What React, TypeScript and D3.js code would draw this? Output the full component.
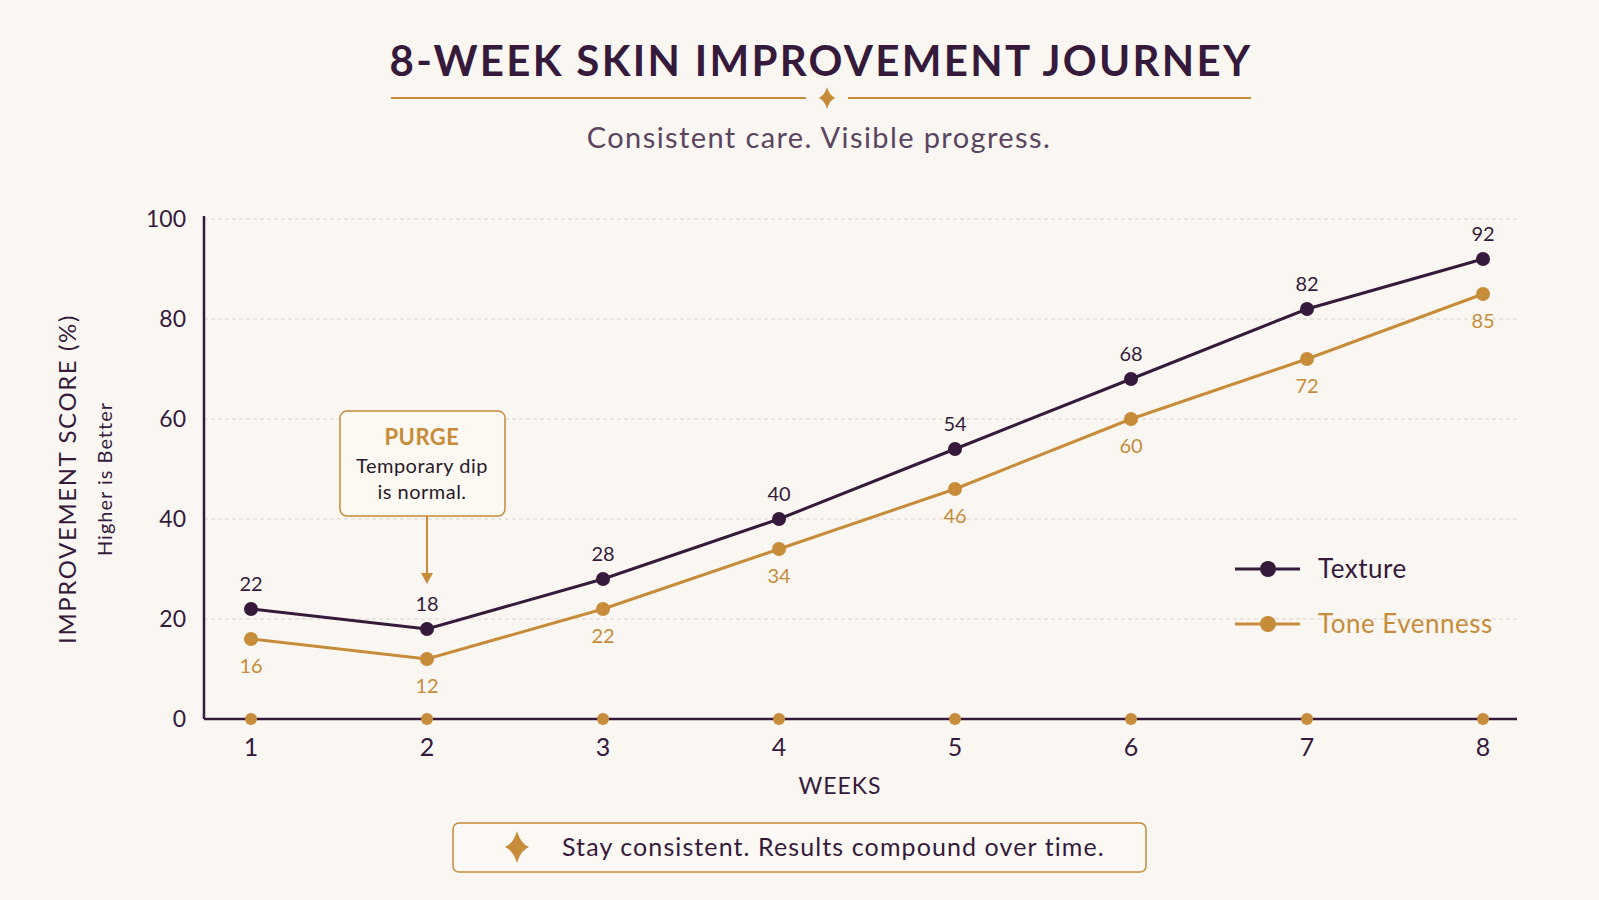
import { useMemo } from "react";
import * as d3 from "d3";

const width = 1599;
const height = 900;

const weeks = [1, 2, 3, 4, 5, 6, 7, 8];
const texture = [22, 18, 28, 40, 54, 68, 82, 92];
const tone = [16, 12, 22, 34, 46, 60, 72, 85];
const yTicks = [0, 20, 40, 60, 80, 100];

const BG = "#faf7f2";
const PURPLE = "#361a3c";
const GOLD = "#c68c3a";
const FONT = "Lato, 'Open Sans', sans-serif";

const starPath = (cx: number, cy: number, r: number) => {
  const k = r * 0.22;
  return `M${cx},${cy - r} Q${cx + k},${cy - k} ${cx + r * 0.75},${cy} Q${cx + k},${cy + k} ${cx},${cy + r} Q${cx - k},${cy + k} ${cx - r * 0.75},${cy} Q${cx - k},${cy - k} ${cx},${cy - r}Z`;
};

export default function App() {
  const x = useMemo(() => d3.scaleLinear().domain([1, 8]).range([251, 1483]), []);
  const y = useMemo(() => d3.scaleLinear().domain([0, 100]).range([719, 219]), []);

  const line = d3
    .line<number>()
    .x((_, i) => x(weeks[i]))
    .y((d) => y(d));

  const left = 204;
  const right = 1517;

  return (
    <svg width={width} height={height} style={{ position: "absolute", left: 0, top: 0, background: BG }}>
      <rect width={width} height={height} fill={BG} />

      {/* title */}
      <text x={821} y={76} textAnchor="middle" fontFamily={FONT} fontWeight={700} fontSize={42} fill={PURPLE} letterSpacing={2.3}>
        8-WEEK SKIN IMPROVEMENT JOURNEY
      </text>
      <line x1={391} x2={806} y1={98} y2={98} stroke={GOLD} strokeWidth={2} />
      <line x1={848} x2={1251} y1={98} y2={98} stroke={GOLD} strokeWidth={2} />
      <path d={starPath(827, 98, 11)} fill={GOLD} />
      <text x={819} y={148} textAnchor="middle" fontFamily={FONT} fontSize={29} fill="#5a4460" letterSpacing={1.4}>
        Consistent care. Visible progress.
      </text>

      {/* grid */}
      {yTicks.filter((t) => t > 0).map((t) => (
        <line key={t} x1={left} x2={right} y1={y(t)} y2={y(t)} stroke="#d9d4cf" strokeWidth={1} strokeDasharray="4 3" />
      ))}

      {/* axes */}
      <line x1={left} x2={left} y1={y(100) - 3} y2={y(0)} stroke={PURPLE} strokeWidth={2.5} />
      <line x1={left} x2={right} y1={y(0)} y2={y(0)} stroke={PURPLE} strokeWidth={2.5} />
      {yTicks.map((t) => (
        <text key={t} x={186} y={y(t) + 8} textAnchor="end" fontFamily={FONT} fontSize={23} fill={PURPLE}>
          {t}
        </text>
      ))}
      {weeks.map((w) => (
        <g key={w}>
          <circle cx={x(w)} cy={y(0)} r={6} fill={GOLD} />
          <text x={x(w)} y={756} textAnchor="middle" fontFamily={FONT} fontSize={25} fill={PURPLE}>
            {w}
          </text>
        </g>
      ))}
      <text x={840} y={794} textAnchor="middle" fontFamily={FONT} fontSize={23} fill={PURPLE} letterSpacing={1}>
        WEEKS
      </text>
      <text transform={`translate(76,${479}) rotate(-90)`} textAnchor="middle" fontFamily={FONT} fontSize={24} fill={PURPLE} letterSpacing={1.6}>
        IMPROVEMENT SCORE (%)
      </text>
      <text transform={`translate(112,${479}) rotate(-90)`} textAnchor="middle" fontFamily={FONT} fontSize={20} fill={PURPLE} letterSpacing={1}>
        Higher is Better
      </text>

      {/* series */}
      <path d={line(tone) ?? ""} fill="none" stroke={GOLD} strokeWidth={3} />
      <path d={line(texture) ?? ""} fill="none" stroke={PURPLE} strokeWidth={3} />
      {tone.map((v, i) => (
        <g key={`t${i}`}>
          <circle cx={x(weeks[i])} cy={y(v)} r={7} fill={GOLD} />
          <text x={x(weeks[i])} y={y(v) + 34} textAnchor="middle" fontFamily={FONT} fontSize={20} fill={GOLD}>
            {v}
          </text>
        </g>
      ))}
      {texture.map((v, i) => (
        <g key={`x${i}`}>
          <circle cx={x(weeks[i])} cy={y(v)} r={7} fill={PURPLE} />
          <text x={x(weeks[i])} y={y(v) - 18} textAnchor="middle" fontFamily={FONT} fontSize={20} fill={PURPLE}>
            {v}
          </text>
        </g>
      ))}

      {/* annotation */}
      <rect x={340} y={411} width={165} height={105} rx={7} fill="#fcf8f2" stroke={GOLD} strokeWidth={1.5} />
      <text x={422} y={445} textAnchor="middle" fontFamily={FONT} fontWeight={700} fontSize={22} fill={GOLD} letterSpacing={0.5}>
        PURGE
      </text>
      <text x={422} y={473} textAnchor="middle" fontFamily={FONT} fontSize={20} fill="#2a1a2a" letterSpacing={0.5}>
        Temporary dip
      </text>
      <text x={422} y={499} textAnchor="middle" fontFamily={FONT} fontSize={20} fill="#2a1a2a" letterSpacing={0.5}>
        is normal.
      </text>
      <line x1={x(2)} x2={x(2)} y1={516} y2={574} stroke={GOLD} strokeWidth={2} />
      <path d={`M${x(2) - 6},${573} L${x(2) + 6},${573} L${x(2)},${584} Z`} fill={GOLD} />

      {/* legend */}
      <line x1={1235} x2={1300} y1={569} y2={569} stroke={PURPLE} strokeWidth={3} />
      <circle cx={1268} cy={569} r={8} fill={PURPLE} />
      <text x={1318} y={578} fontFamily={FONT} fontSize={26} fill={PURPLE} letterSpacing={0.5}>
        Texture
      </text>
      <line x1={1235} x2={1300} y1={624} y2={624} stroke={GOLD} strokeWidth={3} />
      <circle cx={1268} cy={624} r={8} fill={GOLD} />
      <text x={1318} y={633} fontFamily={FONT} fontSize={26} fill={GOLD} letterSpacing={0.5}>
        Tone Evenness
      </text>

      {/* footer */}
      <rect x={453} y={823} width={693} height={49} rx={6} fill="#fcf9f4" stroke={GOLD} strokeWidth={1.5} />
      <path d={starPath(517, 847, 16)} fill={GOLD} />
      <text x={562} y={856} fontFamily={FONT} fontSize={25} fill={PURPLE} letterSpacing={1.1}>
        Stay consistent. Results compound over time.
      </text>
    </svg>
  );
}
